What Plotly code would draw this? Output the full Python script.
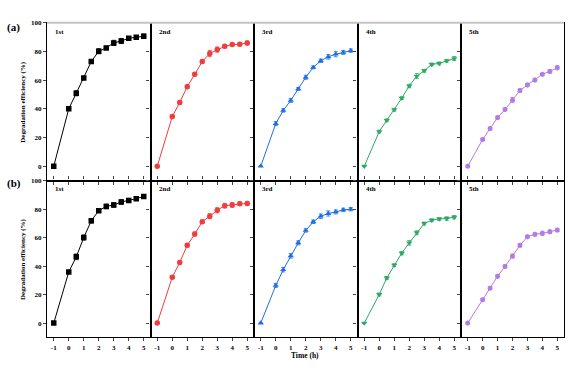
import plotly.graph_objects as go

time_h = [-1, 0, 0.5, 1, 1.5, 2, 2.5, 3, 3.5, 4, 4.5, 5]
cycles = ["1st", "2nd", "3rd", "4th", "5th"]

# Row (a)
a_vals = [
    [0, 40.1, 50.9, 61.5, 73.0, 80.2, 82.5, 86.0, 87.3, 89.2, 89.9, 90.6],
    [0, 34.6, 44.5, 55.5, 64.1, 73.0, 78.6, 81.3, 83.6, 84.8, 85.0, 85.9],
    [0, 29.7, 38.9, 45.9, 53.9, 62.0, 68.9, 73.5, 76.3, 78.1, 79.3, 80.6],
    [0, 24.2, 32.0, 39.4, 47.5, 56.0, 62.9, 66.6, 71.0, 71.7, 73.5, 75.1],
    [0, 18.7, 26.3, 33.9, 39.6, 46.1, 52.8, 56.7, 60.1, 64.1, 66.1, 68.7],
]
a_err = [
    [0, 1.0, 1.8, 1.2, 1.0, 1.8, 1.2, 1.8, 1.8, 1.2, 1.2, 1.6],
    [0, 1.0, 1.2, 1.2, 1.0, 1.2, 2.2, 1.8, 1.2, 1.0, 1.0, 1.4],
    [0, 1.4, 1.2, 1.4, 1.0, 1.4, 1.0, 1.2, 1.6, 1.8, 1.4, 1.2],
    [0, 1.0, 1.0, 1.0, 1.0, 1.2, 1.8, 1.0, 1.0, 1.0, 1.0, 1.4],
    [0, 1.0, 1.0, 1.0, 1.0, 1.8, 1.2, 1.2, 1.2, 1.0, 1.2, 1.4],
]
# Row (b)
b_vals = [
    [0, 35.9, 46.5, 60.0, 71.8, 78.9, 81.9, 82.9, 85.0, 86.1, 87.3, 88.9],
    [0, 32.2, 42.6, 54.6, 62.5, 71.1, 75.0, 79.2, 82.4, 82.9, 83.8, 84.0],
    [0, 26.4, 37.5, 47.2, 56.3, 65.0, 71.1, 75.0, 76.9, 78.0, 79.4, 79.9],
    [0, 20.1, 31.7, 40.7, 49.1, 56.3, 63.4, 69.9, 72.2, 73.1, 73.4, 74.3],
    [0, 16.4, 24.5, 32.9, 39.8, 47.0, 54.6, 60.6, 62.3, 63.0, 64.1, 65.3],
]
b_err = [
    [0, 1.0, 2.0, 1.8, 1.6, 1.2, 1.6, 1.6, 1.6, 1.4, 1.2, 1.0],
    [0, 1.0, 1.2, 1.2, 1.4, 1.2, 1.8, 1.8, 1.6, 1.6, 1.2, 1.4],
    [0, 1.4, 1.6, 1.6, 1.4, 1.2, 1.2, 1.6, 1.8, 1.4, 1.2, 1.2],
    [0, 1.0, 1.0, 1.0, 1.2, 1.6, 1.4, 1.0, 1.0, 1.0, 1.2, 1.2],
    [0, 1.0, 1.0, 1.2, 1.2, 1.4, 1.2, 1.0, 1.2, 1.4, 1.2, 1.2],
]
colors = ["#000000", "#f03c3c", "#1f6fe3", "#2ca866", "#b27ce4"]
symbols = ["square", "circle", "triangle-up", "triangle-down", "hexagon"]
y_ticks = [0, 20, 40, 60, 80, 100]
x_ticks = [-1, 0, 1, 2, 3, 4, 5]

W, H = 576, 371
xb = [47, 150.5, 254, 357.5, 461, 564]
rows_px = [(19, 178.5), (178.5, 337)]
FONT = "Liberation Serif"
TICKFONT = dict(family=FONT, size=7, color="black", weight="bold")

fig = go.Figure()
layout = dict(width=W, height=H, margin=dict(l=0, r=0, t=0, b=0),
              paper_bgcolor="white", plot_bgcolor="rgba(0,0,0,0)", showlegend=False,
              font=dict(family=FONT, size=7, color="black"))

for r, (vals, errs) in enumerate([(a_vals, a_err), (b_vals, b_err)]):
    top, bot = rows_px[r]
    ydom = [1 - bot / H, 1 - top / H]
    for c in range(5):
        idx = r * 5 + c + 1
        xa = "x" if idx == 1 else f"x{idx}"
        ya = "y" if idx == 1 else f"y{idx}"
        fig.add_trace(go.Scatter(
            x=time_h, y=vals[c], xaxis=xa, yaxis=ya, mode="lines+markers",
            line=dict(color=colors[c], width=1),
            marker=dict(symbol=symbols[c], size=5.5, color=colors[c]),
            error_y=dict(type="data", array=errs[c], color=colors[c],
                         thickness=0.8, width=2)))
        xkey = "xaxis" if idx == 1 else f"xaxis{idx}"
        ykey = "yaxis" if idx == 1 else f"yaxis{idx}"
        layout[xkey] = dict(
            domain=[xb[c] / W, xb[c + 1] / W], anchor=ya, range=[-1.45, 5.45],
            tickvals=x_ticks, ticktext=[str(v) for v in x_ticks],
            showticklabels=(r == 1), ticks="outside", ticklen=3, tickwidth=1,
            showline=True, linecolor="black", linewidth=1.2,
            mirror="ticks" if r == 1 else True,
            showgrid=False, zeroline=False, tickfont=TICKFONT)
        # left-side outside ticks: on panels 2-5 these point into the previous panel
        layout[ykey] = dict(
            domain=ydom, anchor=xa, range=[-10, 100], side="left",
            tickvals=y_ticks, showticklabels=(c == 0), ticks="outside", ticklen=3,
            tickwidth=1, showline=True, linecolor="black", linewidth=1.2,
            mirror=True, showgrid=False, zeroline=False, tickfont=TICKFONT)
        fig.add_annotation(x=(xb[c] + 6) / W, y=1 - (top + 9) / H, xref="paper", yref="paper",
                           text=f"<b>{cycles[c]}</b>", showarrow=False, xanchor="left",
                           yanchor="middle", font=dict(family=FONT, size=7, color="black"))
    # tiny helper subplot providing inward ticks on the right edge of the 5th panel
    hx = f"x{11 + r}"
    hy = f"y{11 + r}"
    layout[f"xaxis{11 + r}"] = dict(domain=[xb[5] / W, (xb[5] + 1) / W], anchor=hy,
                                    visible=False, range=[0, 1])
    layout[f"yaxis{11 + r}"] = dict(domain=ydom, anchor=hx, side="left", range=[-10, 100],
                                    tickvals=y_ticks, ticks="outside", ticklen=3, tickwidth=1,
                                    showticklabels=False, showline=False, showgrid=False,
                                    zeroline=False)
    fig.add_annotation(x=23 / W, y=1 - (top + bot) / 2 / H, xref="paper", yref="paper",
                       text="<b>Degradation efficiency (%)</b>", textangle=-90,
                       xanchor="center", yanchor="middle",
                       showarrow=False, font=dict(family=FONT, size=7, color="black"))
    fig.add_annotation(x=5 / W, y=1 - (top - 4) / H if r == 0 else 1 - (top + 3) / H,
                       xref="paper", yref="paper",
                       text="<b>(a)</b>" if r == 0 else "<b>(b)</b>", showarrow=False,
                       xanchor="left", font=dict(family=FONT, size=11, color="black"))

fig.add_annotation(x=305 / W, y=1 - 362 / H, xref="paper", yref="paper",
                   text="<b>Time (h)</b>", showarrow=False,
                   font=dict(family=FONT, size=7.5, color="black"))
fig.add_shape(type="line", xref="paper", yref="paper", x0=xb[0] / W, x1=xb[-1] / W,
              y0=1 - 19 / H, y1=1 - 19 / H, line=dict(color="#c4c4c4", width=2), layer="above")

fig.update_layout(**layout)
fig.write_html("out.html", config={"displayModeBar": False},
               post_script="document.body.style.margin='0';document.body.style.overflow='hidden';")
